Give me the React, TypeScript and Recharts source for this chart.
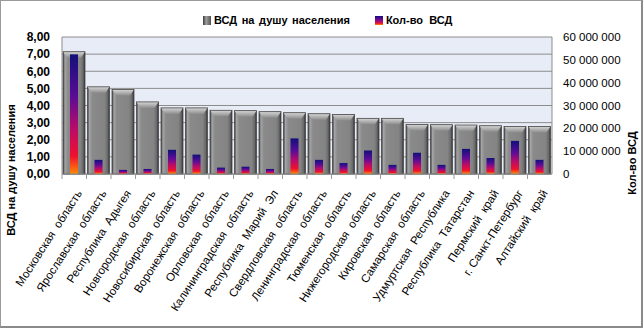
import React from "react";
import { BarChart, Bar, XAxis, YAxis, CartesianGrid } from "recharts";

const categories = [
  "Московская  область",
  "Ярославская  область",
  "Республика  Адыгея",
  "Новгородская  область",
  "Новосибирская  область",
  "Воронежская  область",
  "Орловская  область",
  "Калининградская  область",
  "Республика  Марий  Эл",
  "Свердловская  область",
  "Ленинградская  область",
  "Тюменская  область",
  "Нижегородская  область",
  "Кировская  область",
  "Самарская  область",
  "Удмуртская  Республика",
  "Республика  Татарстан",
  "Пермский  край",
  "г. Санкт-Петербург",
  "Алтайский  край",
];

const vsdPerCapita = [
  7.14, 5.09, 4.93, 4.21, 3.86, 3.86, 3.72, 3.7, 3.64, 3.58,
  3.52, 3.48, 3.25, 3.25, 2.89, 2.88, 2.86, 2.82, 2.78, 2.78,
];

const vsdCount = [
  52400000, 6200000, 1800000, 2200000, 10600000, 8500000, 2800000, 3200000,
  2200000, 15600000, 6200000, 4800000, 10300000, 4000000, 9300000, 4000000,
  11000000, 7000000, 14500000, 6200000,
];

const leftTicks = [0, 1, 2, 3, 4, 5, 6, 7, 8];
const rightTicks = [0, 10000000, 20000000, 30000000, 40000000, 50000000, 60000000];

const seriesNames = ["ВСД на душу населения", "Кол-во  ВСД"];
const leftTitle = "ВСД на душу населения";
const rightTitle = "Кол-во ВСД";

const data = categories.map((name, i) => ({
  name,
  vsd: vsdPerCapita[i],
  cnt: vsdCount[i],
}));

const W = 643;
const H = 328;
const LEFT_W = 62;
const RIGHT_W = 91;
const TOP = 37;
const XH = 154;
const PLOT_W = W - LEFT_W - RIGHT_W;
const BAND = PLOT_W / categories.length;

const FONT = "'Liberation Sans', Arial, sans-serif";

const fmtLeft = (v: number) => v.toFixed(2).replace(".", ",");
const fmtRight = (v: number) =>
  v === 0 ? "0" : String(v).replace(/\B(?=(\d{3})+(?!\d))/g, " ");

const XTick = (props: any) => {
  const { x, y, payload } = props;
  return (
    <g>
      <line x1={x - BAND / 2} x2={x - BAND / 2} y1={y} y2={y + 5} stroke="#9a9a9a" />
      <g transform={`translate(${x + 5},${y + 17})`}>
        <text
          transform="rotate(-57)"
          textAnchor="end"
          dy="0.35em"
          fontSize={11.5}
          fontFamily={FONT}
          fill="#000"
          style={{ whiteSpace: "pre" }}
        >
          {payload.value}
        </text>
      </g>
    </g>
  );
};

const GrayBar = (props: any) => {
  const { x, y, width, height } = props;
  if (!height || height <= 0) return null;
  const b = Math.min(6, height / 2);
  const s = 4;
  return (
    <g>
      <rect x={x} y={y} width={width} height={height} fill="url(#gray3d)" />
      <polygon
        points={`${x},${y} ${x + width},${y} ${x + width - s},${y + b} ${x + s},${y + b}`}
        fill="url(#grayTop)"
      />
      <rect x={x} y={y} width={width} height={height} fill="none" stroke="#4a4a4a" strokeWidth={0.8} />
    </g>
  );
};

const INNER_W = 8;
const ColorBar = (props: any) => {
  const { x, y, width, height } = props;
  if (!height || height <= 0) return null;
  return (
    <rect
      x={x + width / 2 - INNER_W / 2}
      y={y}
      width={INNER_W}
      height={height}
      fill="url(#hot)"
    />
  );
};

const LegendSwatch = ({ kind }: { kind: "gray" | "hot" }) => (
  <svg width={8} height={9} style={{ display: "block" }}>
    <defs>
      <linearGradient id={`lg-${kind}`} x1="0" y1="0" x2={kind === "gray" ? "1" : "0"} y2={kind === "gray" ? "0" : "1"}>
        {kind === "gray" ? (
          <>
            <stop offset="0" stopColor="#3a3a3a" />
            <stop offset="0.4" stopColor="#a0a0a0" />
            <stop offset="1" stopColor="#505050" />
          </>
        ) : (
          <>
            <stop offset="0" stopColor="#140a80" />
            <stop offset="0.5" stopColor="#8a0a90" />
            <stop offset="0.8" stopColor="#e8103a" />
            <stop offset="1" stopColor="#ff8a00" />
          </>
        )}
      </linearGradient>
    </defs>
    <rect x={0} y={0} width={8} height={9} fill={`url(#lg-${kind})`} />
  </svg>
);

export default function App() {
  return (
    <div style={{ position: "absolute", left: 0, top: 0, width: W, height: H, background: "#fff" }}>
      <BarChart
        width={W}
        height={H}
        data={data}
        margin={{ top: TOP, right: 0, bottom: 0, left: 0 }}
        barGap={-22}
        barCategoryGap={0}
      >
        <defs>
          <linearGradient id="gray3d" x1="0" y1="0" x2="1" y2="0">
            <stop offset="0" stopColor="#3a3a3a" />
            <stop offset="0.09" stopColor="#a4a4a4" />
            <stop offset="0.22" stopColor="#8a8a8a" />
            <stop offset="0.78" stopColor="#848484" />
            <stop offset="0.91" stopColor="#6a6a6a" />
            <stop offset="1" stopColor="#2e2e2e" />
          </linearGradient>
          <linearGradient id="grayTop" x1="0" y1="0" x2="0" y2="1">
            <stop offset="0" stopColor="#d6d6d6" />
            <stop offset="1" stopColor="#8e8e8e" />
          </linearGradient>
          <linearGradient id="hot" x1="0" y1="0" x2="0" y2="1">
            <stop offset="0" stopColor="#12107a" />
            <stop offset="0.35" stopColor="#5a0c96" />
            <stop offset="0.62" stopColor="#b80c6a" />
            <stop offset="0.85" stopColor="#f0102e" />
            <stop offset="1" stopColor="#ff8c00" />
          </linearGradient>
        </defs>
        <CartesianGrid
          yAxisId="left"
          vertical={false}
          stroke="#8c8c8c"
          fill="#e8ecf6"
          fillOpacity={1}
        />
        <XAxis
          dataKey="name"
          interval={0}
          height={XH}
          tickSize={0}
          tickMargin={0}
          tick={<XTick />}
          axisLine={{ stroke: "#8c8c8c" }}
        />
        <YAxis
          yAxisId="left"
          orientation="left"
          width={LEFT_W}
          domain={[0, 8]}
          ticks={leftTicks}
          interval={0}
          tickFormatter={fmtLeft}
          tickSize={0}
          tickMargin={12}
          axisLine={{ stroke: "#8c8c8c" }}
          tick={{ fontSize: 12, fontWeight: 700, fill: "#000", fontFamily: FONT }}
          label={{
            content: () => (
              <text
                x={11}
                y={170}
                transform="rotate(-90, 11, 170)"
                textAnchor="middle"
                dominantBaseline="central"
                fontSize={11}
                fontWeight={700}
                fontFamily={FONT}
                fill="#000"
              >
                {leftTitle}
              </text>
            ),
          }}
        />
        <YAxis
          yAxisId="right"
          orientation="right"
          width={RIGHT_W}
          domain={[0, 60000000]}
          ticks={rightTicks}
          interval={0}
          tickFormatter={fmtRight}
          tickSize={0}
          tickMargin={11}
          axisLine={{ stroke: "#8c8c8c" }}
          tick={{ fontSize: 11.5, fill: "#000", fontFamily: FONT, textAnchor: "start" }}
          label={{
            content: () => (
              <text
                x={632}
                y={163}
                transform="rotate(-90, 632, 163)"
                textAnchor="middle"
                dominantBaseline="central"
                fontSize={11}
                fontWeight={700}
                fontFamily={FONT}
                fill="#000"
              >
                {rightTitle}
              </text>
            ),
          }}
        />
        <Bar
          yAxisId="left"
          dataKey="vsd"
          name={seriesNames[0]}
          barSize={22}
          shape={<GrayBar />}
          isAnimationActive={false}
        />
        <Bar
          yAxisId="right"
          dataKey="cnt"
          name={seriesNames[1]}
          barSize={22}
          shape={<ColorBar />}
          isAnimationActive={false}
        />
      </BarChart>
      <div
        style={{
          position: "absolute",
          top: 14,
          left: 203,
          display: "flex",
          alignItems: "center",
          fontFamily: FONT,
          fontSize: 11,
          fontWeight: 700,
          color: "#000",
          whiteSpace: "pre",
          lineHeight: "12px",
        }}
      >
        <LegendSwatch kind="gray" />
        <span style={{ marginLeft: 3, wordSpacing: 1.5 }}>{seriesNames[0]}</span>
        <span style={{ marginLeft: 25, display: "flex" }}>
          <LegendSwatch kind="hot" />
        </span>
        <span style={{ marginLeft: 3 }}>{seriesNames[1]}</span>
      </div>
      <div
        style={{
          position: "absolute",
          left: 0,
          top: 0,
          width: W,
          height: H,
          boxSizing: "border-box",
          borderTop: "1px solid #9a9a9a",
          borderLeft: "1px solid #9a9a9a",
          borderRight: "2px solid #8a8a8a",
          borderBottom: "2px solid #8a8a8a",
          pointerEvents: "none",
        }}
      />
    </div>
  );
}
